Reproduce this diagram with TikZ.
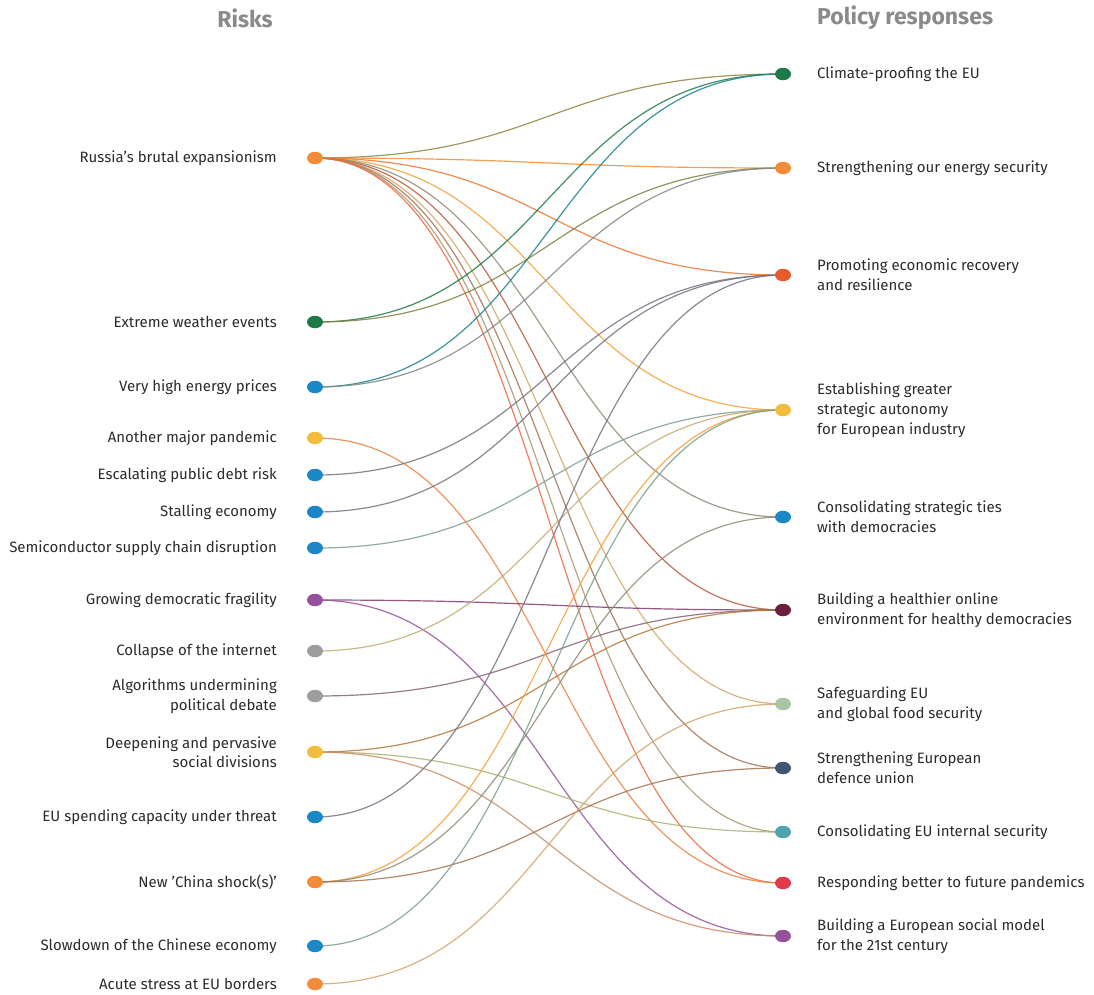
\documentclass[tikz,border=0pt]{standalone}
\usepackage{fontspec}
\setmainfont{Fira Sans}
\usetikzlibrary{shapes.geometric,backgrounds}
\definecolor{cOrange}{HTML}{F28C38}
\definecolor{cGreen}{HTML}{1E7A48}
\definecolor{cBlue}{HTML}{1B87C6}
\definecolor{cYellow}{HTML}{F2BD3C}
\definecolor{cPurple}{HTML}{96519C}
\definecolor{cGrey}{HTML}{9D9D9D}
\definecolor{cRed}{HTML}{E8592B}
\definecolor{cMaroon}{HTML}{6B1F3D}
\definecolor{cPale}{HTML}{A9C4A4}
\definecolor{cNavy}{HTML}{3E5575}
\definecolor{cTeal}{HTML}{4FA3B0}
\definecolor{cCrimson}{HTML}{E03B4B}
\definecolor{ink}{HTML}{2B2B2B}
\definecolor{head}{HTML}{8A8A8A}

\tikzset{
  dot/.style={ellipse, minimum width=16pt, minimum height=12.5pt, inner sep=0pt},
  risk/.style={anchor=east, text=ink, font=\fontsize{15}{19.5}\selectfont, align=right, inner sep=0pt},
  resp/.style={anchor=west, text=ink, font=\fontsize{15}{20}\selectfont, align=left, inner sep=0pt},
  header/.style={text=head, font=\fontsize{23}{26}\selectfont\bfseries, inner sep=0pt},
  link/.style={line width=1.2pt, opacity=0.85}
}

\begin{document}
\begin{tikzpicture}[x=1pt,y=-1pt]
\useasboundingbox (0,0) rectangle (1094,994);
\node[header, anchor=east] at (273,18) {Risks};
\node[header, anchor=west] at (817,18) {Policy responses};

\node[dot, fill=cOrange] (rus) at (315,158) {};
\node[dot, fill=cGreen] (wea) at (315,322) {};
\node[dot, fill=cBlue] (ene) at (315,387) {};
\node[dot, fill=cYellow] (pan) at (315,438) {};
\node[dot, fill=cBlue] (debt) at (315,475) {};
\node[dot, fill=cBlue] (stall) at (315,512) {};
\node[dot, fill=cBlue] (semi) at (315,548) {};
\node[dot, fill=cPurple] (demo) at (315,600) {};
\node[dot, fill=cGrey] (net) at (315,651) {};
\node[dot, fill=cGrey] (algo) at (315,696) {};
\node[dot, fill=cYellow] (divi) at (315,752) {};
\node[dot, fill=cBlue] (spend) at (315,817) {};
\node[dot, fill=cOrange] (china) at (315,882) {};
\node[dot, fill=cBlue] (slow) at (315,946) {};
\node[dot, fill=cOrange] (bord) at (315,984) {};

\node[risk] at (277,158) {Russia's brutal expansionism};
\node[risk] at (277,322) {Extreme weather events};
\node[risk] at (277,387) {Very high energy prices};
\node[risk] at (277,438) {Another major pandemic};
\node[risk] at (277,475) {Escalating public debt risk};
\node[risk] at (277,512) {Stalling economy};
\node[risk] at (277,548) {Semiconductor supply chain disruption};
\node[risk] at (277,600) {Growing democratic fragility};
\node[risk] at (277,651) {Collapse of the internet};
\node[risk] at (277,696) {Algorithms undermining\\political debate};
\node[risk] at (277,752) {Deepening and pervasive\\social divisions};
\node[risk] at (277,817) {EU spending capacity under threat};
\node[risk] at (277,882) {New 'China shock(s)'};
\node[risk] at (277,946) {Slowdown of the Chinese economy};
\node[risk] at (277,984) {Acute stress at EU borders};

\node[dot, fill=cGreen] (clim) at (783,74) {};
\node[dot, fill=cOrange] (enes) at (783,168) {};
\node[dot, fill=cRed] (recov) at (783,275) {};
\node[dot, fill=cYellow] (auto) at (783,410) {};
\node[dot, fill=cBlue] (ties) at (783,517) {};
\node[dot, fill=cMaroon] (online) at (783,610) {};
\node[dot, fill=cPale] (food) at (783,704) {};
\node[dot, fill=cNavy] (defe) at (783,768) {};
\node[dot, fill=cTeal] (intsec) at (783,832) {};
\node[dot, fill=cCrimson] (pandr) at (783,883) {};
\node[dot, fill=cPurple] (social) at (783,936) {};

\node[resp] at (817,74) {Climate-proofing the EU};
\node[resp] at (817,168) {Strengthening our energy security};
\node[resp] at (817,275) {Promoting economic recovery\\and resilience};
\node[resp] at (817,410) {Establishing greater\\strategic autonomy\\for European industry};
\node[resp] at (817,517) {Consolidating strategic ties\\with democracies};
\node[resp] at (817,610) {Building a healthier online\\environment for healthy democracies};
\node[resp] at (817,704) {Safeguarding EU\\and global food security};
\node[resp] at (817,768) {Strengthening European\\defence union};
\node[resp] at (817,832) {Consolidating EU internal security};
\node[resp] at (817,883) {Responding better to future pandemics};
\node[resp] at (817,936) {Building a European social model\\for the 21st century};

\begin{scope}[on background layer]
\foreach \from/\to/\ca/\cb in {
  rus/clim/cOrange/cGreen, rus/enes/cOrange/cOrange, rus/recov/cOrange/cRed,
  rus/auto/cOrange/cYellow, rus/ties/cOrange/cBlue, rus/online/cOrange/cMaroon,
  rus/food/cOrange/cPale, rus/defe/cOrange/cNavy, rus/intsec/cOrange/cTeal,
  rus/pandr/cOrange/cCrimson,
  wea/clim/cGreen/cGreen, wea/enes/cGreen/cOrange,
  ene/clim/cBlue/cGreen, ene/enes/cBlue/cOrange,
  pan/pandr/cYellow/cCrimson,
  debt/recov/cBlue/cRed, stall/recov/cBlue/cRed,
  semi/auto/cBlue/cYellow,
  demo/online/cPurple/cMaroon, demo/social/cPurple/cPurple,
  net/auto/cGrey/cYellow,
  algo/online/cGrey/cMaroon,
  divi/online/cYellow/cMaroon, divi/intsec/cYellow/cTeal, divi/social/cYellow/cPurple,
  spend/recov/cBlue/cRed,
  china/auto/cOrange/cYellow, china/ties/cOrange/cBlue, china/defe/cOrange/cNavy,
  slow/auto/cBlue/cYellow,
  bord/food/cOrange/cPale}
  \draw[link, draw=\ca!55!\cb] (\from.center) .. controls +(234,0) and +(-234,0) .. (\to.center);
\end{scope}
\end{tikzpicture}
\end{document}
